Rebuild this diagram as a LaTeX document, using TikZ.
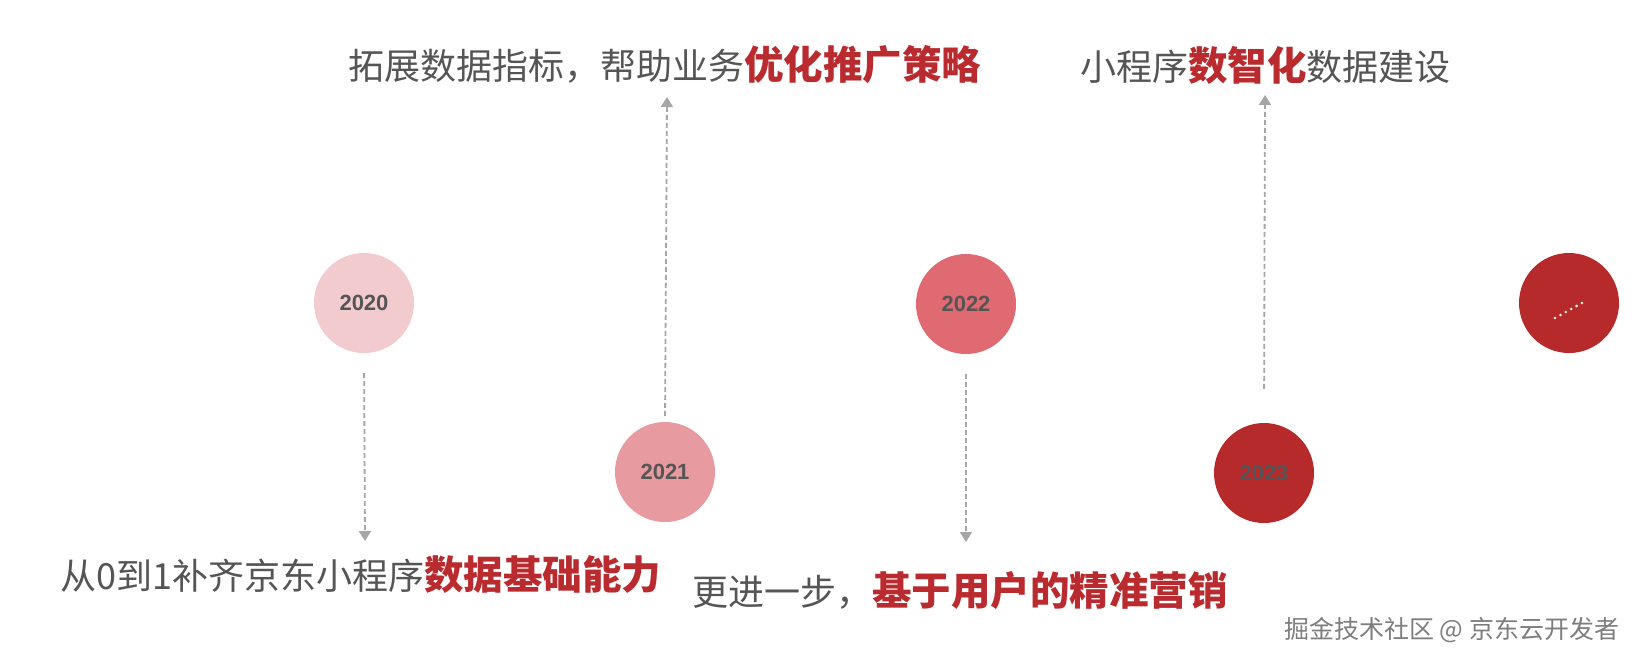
\documentclass[tikz,border=0pt]{standalone}
\usepackage{fontspec}
\usetikzlibrary{arrows.meta}
\newfontfamily\cjk{Noto Sans CJK SC}
\newfontfamily\yearfont{Liberation Sans}
\definecolor{txtgray}{HTML}{555555}
\definecolor{hired}{HTML}{B92B2E}
\definecolor{arrgray}{HTML}{A6A6A6}
\definecolor{c0}{HTML}{F2CBCF}
\definecolor{c1}{HTML}{E79A9F}
\definecolor{c2}{HTML}{E06A72}
\definecolor{c3}{HTML}{B72A2C}
\definecolor{wmgray}{HTML}{7E7E7E}
\newcommand{\hl}[1]{{\fontsize{39.5}{42}\selectfont\bfseries\color{hired}#1}}
\begin{document}
\begin{tikzpicture}[x=1pt,y=-1pt,
  yearball/.style={circle,minimum size=100pt,inner sep=0pt,draw=none,
    font=\yearfont\bfseries\fontsize{22}{26}\selectfont,text=txtgray},
  flow/.style={draw=arrgray,line width=1.8pt,dash pattern=on 5pt off 3pt,
    -{Triangle[width=12pt,length=10pt]}},
  bigtext/.style={anchor=west,inner sep=0pt,text=txtgray,
    font=\cjk\fontsize{36}{42}\selectfont},
  wmark/.style={anchor=west,inner sep=0pt,text=wmgray,
    font=\cjk\fontsize{25}{28}\selectfont}]
\useasboundingbox[fill=white] (0,0) rectangle (1640,662);
% circles
\node[yearball,fill=c0] (c2020) at (364,303) {2020};
\node[yearball,fill=c1] (c2021) at (665,472) {2021};
\node[yearball,fill=c2] (c2022) at (966,304) {2022};
\node[yearball,fill=c3] (c2023) at (1264,473) {2023};
\node[yearball,fill=c3] (cmore) at (1569,303) {};
% ellipsis dots in the last circle
\foreach \i in {0,...,5}
  \fill[white!92!yellow] ({1555+5.4*\i},{318-3*\i}) circle (1.4pt);
% texts
\node[bigtext] (t1) at (60,575) {从0到1补齐京东小程序\hl{数据基础能力}};
\node[bigtext] (t2) at (348,65) {拓展数据指标，帮助业务\hl{优化推广策略}};
\node[bigtext] (t3) at (692,591) {更进一步，\hl{基于用户的精准营销}};
\node[bigtext] (t4) at (1080,65) {小程序\hl{数智化}数据建设};
\node[wmark] (wm) at (1284,630) {掘金技术社区 @ 京东云开发者};
% connector ends
\coordinate (tip1) at (365,541);
\coordinate (tip2) at (667,97);
\coordinate (tip3) at (966,542);
\coordinate (tip4) at (1265,95);
\draw[flow,shorten <=20pt] (c2020.south) -- (tip1);
\draw[flow,shorten <=6pt] (c2021.north) -- (tip2);
\draw[flow,shorten <=20pt] (c2022.south) -- (tip3);
\draw[flow,shorten <=34pt] (c2023.north) -- (tip4);
\end{tikzpicture}
\end{document}
